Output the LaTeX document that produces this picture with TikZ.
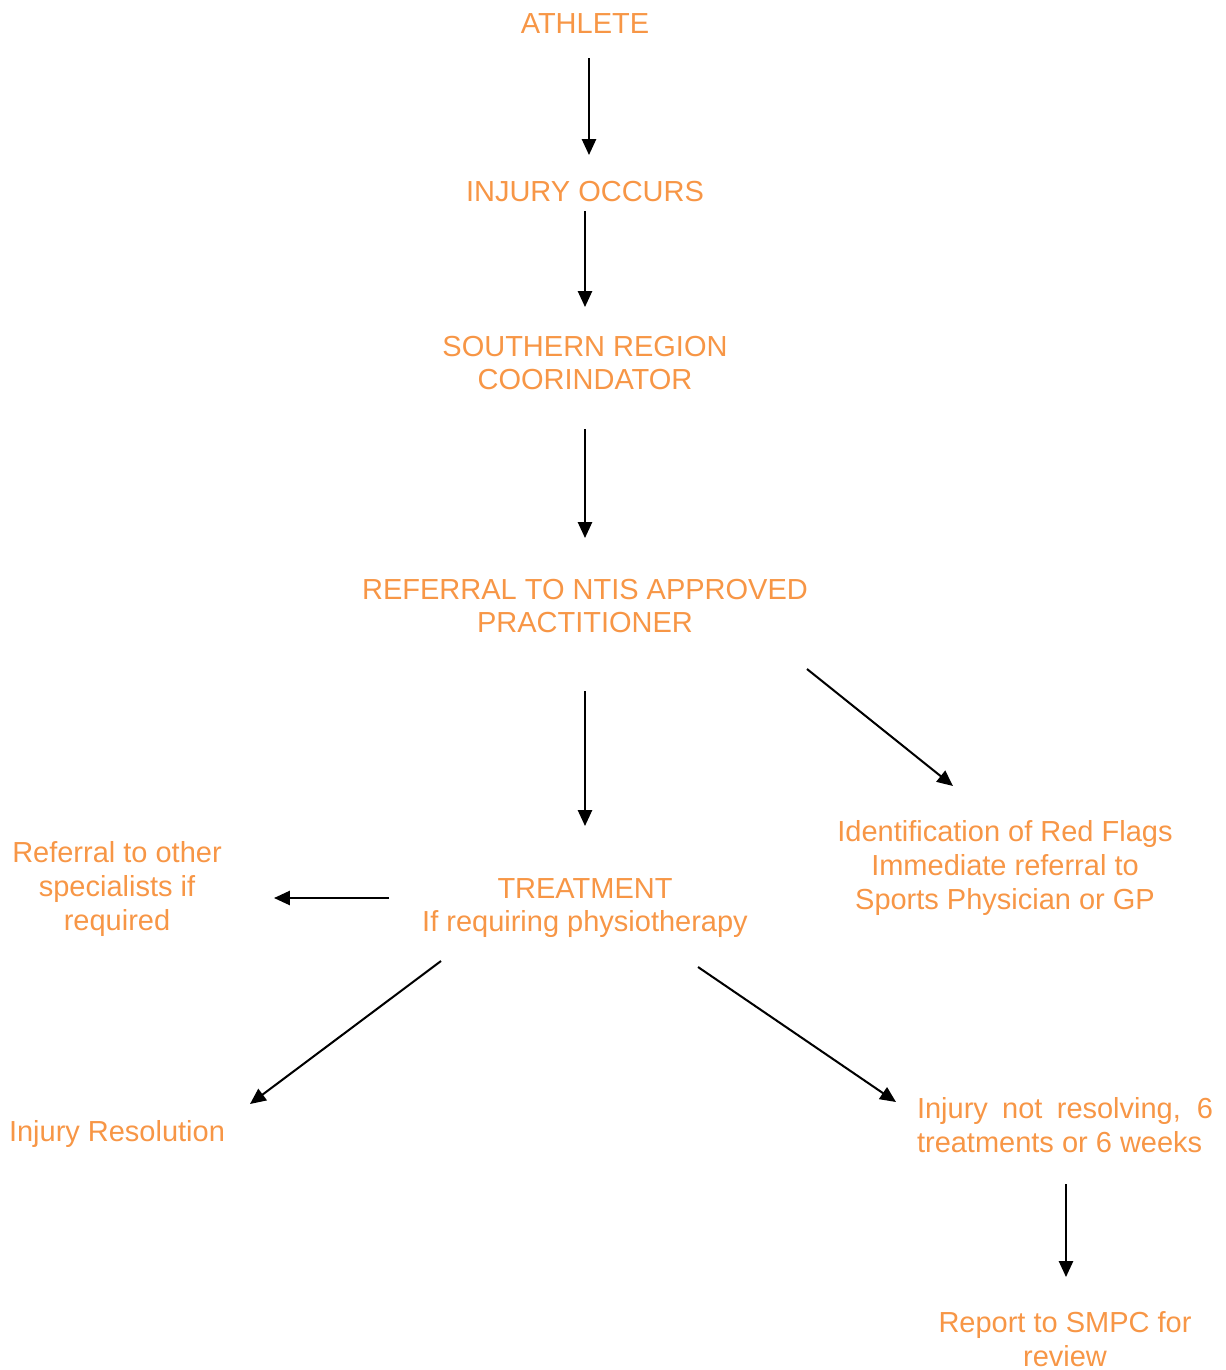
\documentclass[tikz,border=0pt]{standalone}
\usepackage{fontspec}
\setmainfont{Liberation Sans}
\usetikzlibrary{arrows.meta,calc}
\definecolor{flow}{HTML}{F79646}
\definecolor{ink}{HTML}{000000}
\tikzset{
  txt/.style={text=flow, align=center, inner sep=0pt,
    font=\fontsize{16.5pt}{19.3pt}\selectfont},
  arr/.style={-{Triangle[length=9pt,width=8pt]}, line width=1.15pt, color=ink},
}
\begin{document}
\begin{tikzpicture}[x=0.02cm, y=-0.02cm]
  \useasboundingbox (0,0) rectangle (1226,1370);
  % main column
  \node[txt] (athlete) at (585,24) {ATHLETE};
  \node[txt] (injury) at (585,192) {INJURY OCCURS};
  \node[txt] (coord) at (585,363) {SOUTHERN REGION\\COORINDATOR};
  \node[txt] (referral) at (585,606) {REFERRAL TO NTIS APPROVED\\PRACTITIONER};
  \node[txt] (treat) at (585,908) {TREATMENT\\If requiring physiotherapy};
  % side branches
  \node[txt] (others) at (117,889) {Referral to other\\specialists if\\required};
  \node[txt] (redflags) at (1005,868) {Identification of Red Flags\\Immediate referral to\\Sports Physician or GP};
  \node[txt] (resolved) at (117,1134) {Injury Resolution};
  \node[txt, text width=5.92cm, align=justify] (notres) at (1065,1125) {Injury not resolving, 6 treatments or 6 weeks};
  \node[txt] (report) at (1065,1339) {Report to SMPC for\\review};
  % connectors
  \foreach \a/\da/\b/\db in {athlete/{4,34}/injury/{4,-37},
      injury/{0,19}/coord/{0,-56}, coord/{0,66}/referral/{0,-68},
      referral/{0,85}/treat/{0,-82}, referral/{222,63}/redflags/{-52,-82},
      treat/{-196,-10}/others/{157,9}, treat/{-144,53}/resolved/{133,-30},
      treat/{113,59}/notres/{-169,-23}, notres/{1,59}/report/{1,-62}}
    \draw[arr] ($(\a)+(\da)$) -- ($(\b)+(\db)$);
\end{tikzpicture}
\end{document}
